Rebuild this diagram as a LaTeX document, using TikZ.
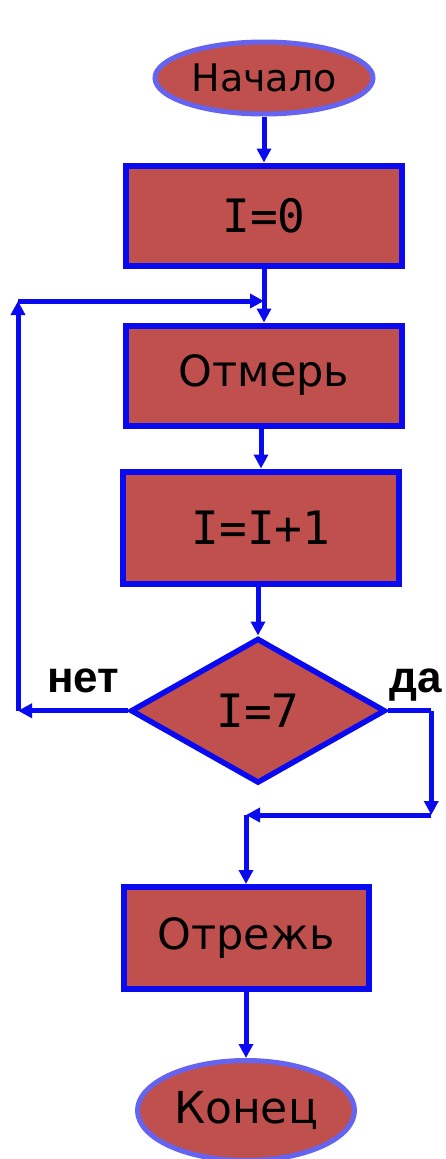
\documentclass[tikz,border=0pt]{standalone}
\usepackage{fontspec}
\setmainfont{DejaVu Sans}
\newfontfamily\codefont{DejaVu Sans Mono}
\newfontfamily\labelfont{Liberation Sans}
\usepackage{xcolor}
\usepackage{tikz}
\usetikzlibrary{shapes.geometric, arrows.meta, positioning}
\definecolor{boxfill}{RGB}{192,80,77}
\definecolor{boxline}{RGB}{10,10,240}
\definecolor{ovalline}{RGB}{100,100,240}
\tikzset{
    terminal/.style={ellipse, draw=ovalline, fill=boxfill, line width=5pt, inner sep=0pt, font=\fontsize{38}{40}\selectfont},
    block/.style={rectangle, draw=boxline, fill=boxfill, line width=6pt, minimum width=276pt, minimum height=100pt, font=\fontsize{43}{46}\selectfont},
    codeblock/.style={block, font=\codefont\fontsize{46}{50}\selectfont},
    decision/.style={diamond, draw=boxline, fill=boxfill, line width=5.5pt, inner sep=0pt, minimum width=255pt, minimum height=145pt, font=\codefont\fontsize{46}{50}\selectfont},
    arrow/.style={draw=boxline, line width=5pt, -{Triangle[length=14pt,width=14pt]}},
    line/.style={draw=boxline, line width=5pt},
    labelstyle/.style={font=\labelfont\bfseries\fontsize{44}{46}\selectfont},
}

\begin{document}
\begin{tikzpicture}[x=1pt, y=1pt]
    \useasboundingbox (0,0) rectangle (446,-1159);

    % Nodes
    \node[terminal, minimum width=218pt, minimum height=72pt] (start) at (264,-78) {Начало};
    \node[codeblock, below=46pt of start] (init) {I=0};
    \node[block, below=54pt of init] (measure) {Отмерь};
    \node[codeblock, below=40pt of measure, xshift=-3pt, minimum height=112pt] (incr) {I=I+1};
    \node[decision, below=49pt of incr, xshift=-3pt] (check) {I=7};
    \node[block, below=98pt of check, xshift=-12pt, minimum width=245pt, minimum height=102pt] (cut) {Отрежь};
    \node[terminal, below=66pt of cut, minimum width=217pt, minimum height=100pt, font=\fontsize{44}{46}\selectfont] (stop) {Конец};

    % Labels
    \node[labelstyle, anchor=base east] (nolabel) at ([xshift=-5pt,yshift=18pt]check.west) {нет};
    \node[labelstyle, anchor=base west] (yeslabel) at ([xshift=-2pt,yshift=18pt]check.east) {да};

    % Loop and branch points
    \coordinate (looptop) at (18,-301);
    \coordinate (loopbottom) at (check.west -| looptop);
    \coordinate (loopjoin) at (measure.north -| start);
    \coordinate (loopjoin) at (loopjoin |- looptop);
    \coordinate (yesright) at ([xshift=43pt]check.east);
    \coordinate (yesbottom) at (yesright |- 0,-815);
    \coordinate (yesjoin) at (cut.north |- yesbottom);

    % Arrows
    \draw[arrow] (start) -- (init.north -| start);
    \draw[arrow] (init.south -| start) -- (measure.north -| start);
    \draw[arrow] (measure.south -| incr) -- (incr);
    \draw[arrow] (incr.south -| check) -- (check);
    \draw[arrow] (check.west) -- (loopbottom);
    \draw[arrow] (loopbottom) -- (looptop);
    \draw[arrow] (looptop) -- (loopjoin);
    \draw[line] (check.east) -- (yesright);
    \draw[arrow] (yesright) -- (yesbottom);
    \draw[arrow] (yesbottom) -- (yesjoin);
    \draw[arrow] (yesjoin) -- (cut);
    \draw[arrow] (cut) -- (stop);

\end{tikzpicture}
\end{document}
